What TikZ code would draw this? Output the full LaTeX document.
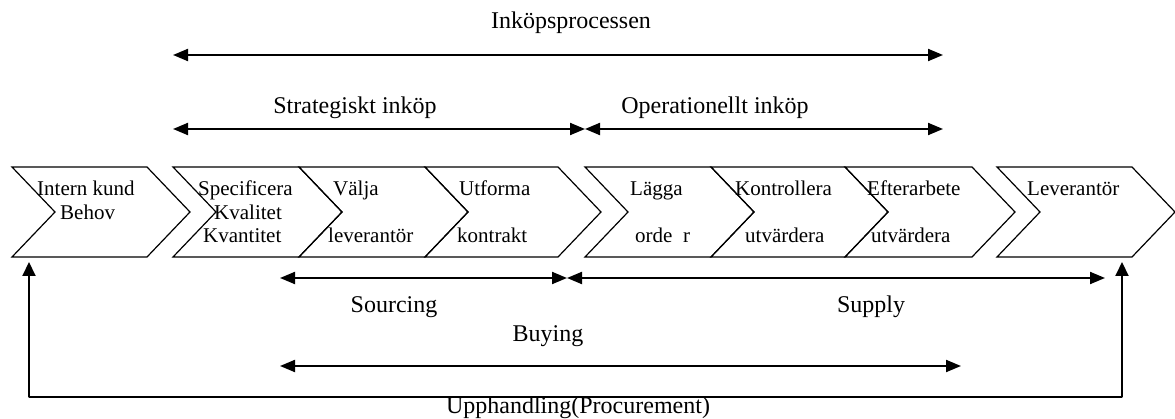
\documentclass[tikz,border=0pt]{standalone}
\usepackage{fontspec}
\setmainfont{Liberation Serif}
\usetikzlibrary{arrows.meta}

\tikzset{
  chevron/.style={draw=black, line width=1.2pt, line join=miter},
  span/.style={line width=2pt, {Triangle[length=15pt,width=12pt]}-{Triangle[length=15pt,width=12pt]}},
  riser/.style={line width=2pt, -{Triangle[length=14pt,width=13pt]}},
  baseline/.style={line width=1.3pt, line cap=round},
  steptext/.style={anchor=base west, inner sep=0pt, font=\fontsize{21}{24}\selectfont},
  label/.style={anchor=base, inner sep=0pt, font=\fontsize{24}{28}\selectfont}
}

\begin{document}
\begin{tikzpicture}[x=1pt, y=-1pt]
\useasboundingbox (0,0) rectangle (1175,419);

% process chevrons: left edge / right edge of the top side
\foreach \l/\r in {12/147, 173/299, 299/425, 425/558, 585/711, 711/845, 845/972, 997/1132}{
  \draw[chevron] (\l,167) -- (\r,167) -- (\r+43,212) -- (\r,257) -- (\l,257) -- (\l+43,212) -- cycle;
}

% texts inside the chevrons
\node[steptext] (t1a) at (37,196) {Intern kund};
\node[steptext] (t1b) at (60,220) {Behov};
\node[steptext] (t2a) at (198,196) {Specificera};
\node[steptext] (t2b) at (214,220) {Kvalitet};
\node[steptext] (t2c) at (203,243) {Kvantitet};
\node[steptext] (t3a) at (333,196) {Välja};
\node[steptext] (t3b) at (328,243) {leverantör};
\node[steptext] (t4a) at (459,196) {Utforma};
\node[steptext] (t4b) at (457,243) {kontrakt};
\node[steptext] (t5a) at (630,196) {Lägga};
\node[steptext] (t5b) at (635,243) {orde~~r};
\node[steptext] (t6a) at (735,196) {Kontrollera};
\node[steptext] (t6b) at (745,243) {utvärdera};
\node[steptext] (t7a) at (867,196) {Efterarbete};
\node[steptext] (t7b) at (871,243) {utvärdera};
\node[steptext] (t8a) at (1027,196) {Leverantör};

% span end points
\coordinate (inkL) at (173,55);
\coordinate (inkR) at (943,55);
\coordinate (strL) at (173,129);
\coordinate (mid1) at (585,129);
\coordinate (opR)  at (943,129);
\coordinate (souL) at (280,278);
\coordinate (mid2) at (567,278);
\coordinate (supR) at (1105,278);
\coordinate (buyL) at (280,366);
\coordinate (buyR) at (961,366);
\coordinate (upL)  at (29,262);
\coordinate (cnL)  at (29,397);
\coordinate (cnR)  at (1122,397);
\coordinate (upR)  at (1122,262);

% spans
\draw[span] (inkL) -- (inkR);
\draw[span] (strL) -- (mid1);
\draw[span] (mid1) -- (opR);
\draw[span] (souL) -- (mid2);
\draw[span] (mid2) -- (supR);
\draw[span] (buyL) -- (buyR);

% procurement loop
\draw[baseline] (cnL) -- (cnR);
\draw[riser] (cnL) -- (upL);
\draw[riser] (cnR) -- (upR);

% span labels
\node[label] (lInk) at (571,29) {Inköpsprocessen};
\node[label] (lStr) at (355,114) {Strategiskt inköp};
\node[label] (lOp)  at (715,114) {Operationellt inköp};
\node[label] (lSou) at (394,313) {Sourcing};
\node[label] (lSup) at (871,313) {Supply};
\node[label] (lBuy) at (548,342) {Buying};
\node[label] (lUpp) at (578,413) {Upphandling(Procurement)};
\end{tikzpicture}
\end{document}
